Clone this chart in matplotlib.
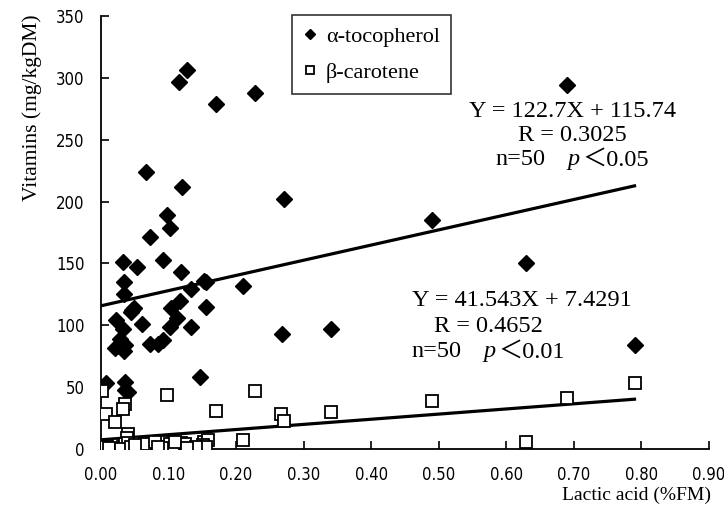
import matplotlib
matplotlib.use('Agg')
import matplotlib.pyplot as plt
import numpy as np

# alpha-tocopherol (filled diamonds)
toco_x = [0.128, 0.115, 0.171, 0.228, 0.067, 0.120, 0.271, 0.690, 0.490, 0.630,
          0.790, 0.340, 0.268, 0.097, 0.102, 0.073, 0.032, 0.053, 0.092, 0.118,
          0.034, 0.152, 0.134, 0.211, 0.034, 0.046, 0.103, 0.117, 0.156, 0.045,
          0.022, 0.060, 0.033, 0.102, 0.112, 0.134, 0.028, 0.036, 0.020, 0.034,
          0.072, 0.085, 0.092, 0.147, 0.008, 0.035, 0.036, 0.040, 0.049, 0.155]
toco_y = [306, 297, 279, 288, 224, 212, 202, 294, 185, 150,
          84, 97, 93, 189, 179, 171, 151, 147, 153, 143,
          135, 136, 129, 132, 125, 112, 114, 120, 115, 111,
          104, 101, 97, 99, 106, 99, 89, 84, 82, 79,
          85, 85, 88, 58, 53, 54, 48, 46, 114, 135]

# beta-carotene (open squares)
caro_x = [0.002, 0.097, 0.228, 0.035, 0.033, 0.007, 0.170, 0.021, 0.266, 0.271,
          0.040, 0.038, 0.211, 0.490, 0.690, 0.790, 0.340, 0.630, 0.153, 0.158,
          0.149, 0.006, 0.018, 0.026, 0.033, 0.035, 0.040, 0.058, 0.072, 0.090,
          0.094, 0.102, 0.117, 0.119, 0.134, 0.151, 0.156, 0.012, 0.030, 0.045,
          0.065, 0.080, 0.098, 0.108, 0.125, 0.140, 0.110, 0.128, 0.085, 0.050]
caro_y = [47, 44, 47, 36, 32, 28, 31, 22, 28, 23,
          12, 9, 7, 39, 41, 53, 30, 6, 6, 7,
          1, 2, 1, 3, 2, 4, 5, 5, 3, 6,
          2, 4, 3, 5, 1, 3, 2, 1, 0, 2,
          4, 6, 1, 0, 4, 2, 6, 1, 2, 3]

x_ticks = [0.0, 0.1, 0.2, 0.3, 0.4, 0.5, 0.6, 0.7, 0.8, 0.9]
y_ticks = [0, 50, 100, 150, 200, 250, 300, 350]

toco_fit = (122.7, 115.74)
caro_fit = (41.543, 7.4291)

serif = ['Liberation Serif', 'Noto Sans CJK JP']
sans = ['DejaVu Sans']

fig = plt.figure(figsize=(7.24, 5.23), dpi=100)
ax = fig.add_axes([0.1395, 0.1415, 0.8395, 0.828])

ax.plot(toco_x, toco_y, 'D', color='black', markersize=8.5, label='α-tocopherol', zorder=3)
ax.plot(caro_x, caro_y, 's', markerfacecolor='white', markeredgecolor='black',
        markeredgewidth=1.3, markersize=8, label='β-carotene', zorder=3)

xx = np.array([0.0, max(toco_x)])
ax.plot(xx, toco_fit[0] * xx + toco_fit[1], color='black', lw=2.3, zorder=2)
ax.plot(xx, caro_fit[0] * xx + caro_fit[1], color='black', lw=2.3, zorder=2)

ax.set_xlim(0, 0.9)
ax.set_ylim(0, 350)
ax.set_xticks(x_ticks)
ax.set_xticklabels([f'{v:.2f}' for v in x_ticks], family=sans, fontstretch='condensed', fontsize=12)
ax.set_yticks(y_ticks)
ax.set_yticklabels([str(v) for v in y_ticks], family=sans, fontstretch='condensed', fontsize=12)
ax.tick_params(direction='in', length=6, width=1.2, pad=12)
ax.spines['top'].set_visible(False)
ax.spines['right'].set_visible(False)
for s in ['left', 'bottom']:
    ax.spines[s].set_linewidth(1.3)

fig.text(32 / 724, 1 - 14 / 523, 'Vitamins (mg/kgDM)', rotation=90, ha='center', va='top',
         family=serif, fontsize=15.5)
fig.text(711 / 724, 1 - 495 / 523, 'Lactic acid (%FM)', ha='right', va='center',
         family=serif, fontsize=14)

leg = ax.legend(loc='upper left', bbox_to_anchor=(0.315, 1.002), borderaxespad=0,
                prop={'family': serif, 'size': 16},
                frameon=True, fancybox=False, edgecolor='black', markerscale=0.65,
                handlelength=0.6, handletextpad=0.4, borderpad=0.5, labelspacing=0.7)
leg.get_frame().set_linewidth(1.2)

fs = 17.5
renderer = fig.canvas.get_renderer()


def centered_line(xc, yc, pieces):
    # pieces: list of (text, style, gap_before_in_px)
    texts = []
    for txt, style, gap in pieces:
        t = ax.text(0, yc, txt, transform=ax.transAxes, ha='left', va='center',
                    family=serif, fontsize=fs, style=style)
        texts.append((t, gap))
    widths = [t.get_window_extent(renderer).width for t, _ in texts]
    total = sum(widths) + sum(g for _, g in texts)
    ax_w = ax.get_window_extent(renderer).width
    x = xc * ax_w - total / 2
    for (t, gap), w in zip(texts, widths):
        x += gap
        t.set_x(x / ax_w)
        x += w


centered_line(0.775, 0.780, [('Y = 122.7X + 115.74', 'normal', 0)])
centered_line(0.775, 0.724, [('R = 0.3025', 'normal', 0)])
centered_line(0.775, 0.668, [('n=50', 'normal', 0), ('p', 'italic', 22), ('＜0.05', 'normal', 3)])

centered_line(0.692, 0.342, [('Y = 41.543X + 7.4291', 'normal', 0)])
centered_line(0.637, 0.283, [('R = 0.4652', 'normal', 0)])
centered_line(0.637, 0.224, [('n=50', 'normal', 0), ('p', 'italic', 22), ('＜0.01', 'normal', 3)])

fig.savefig('out.png', dpi=100)
